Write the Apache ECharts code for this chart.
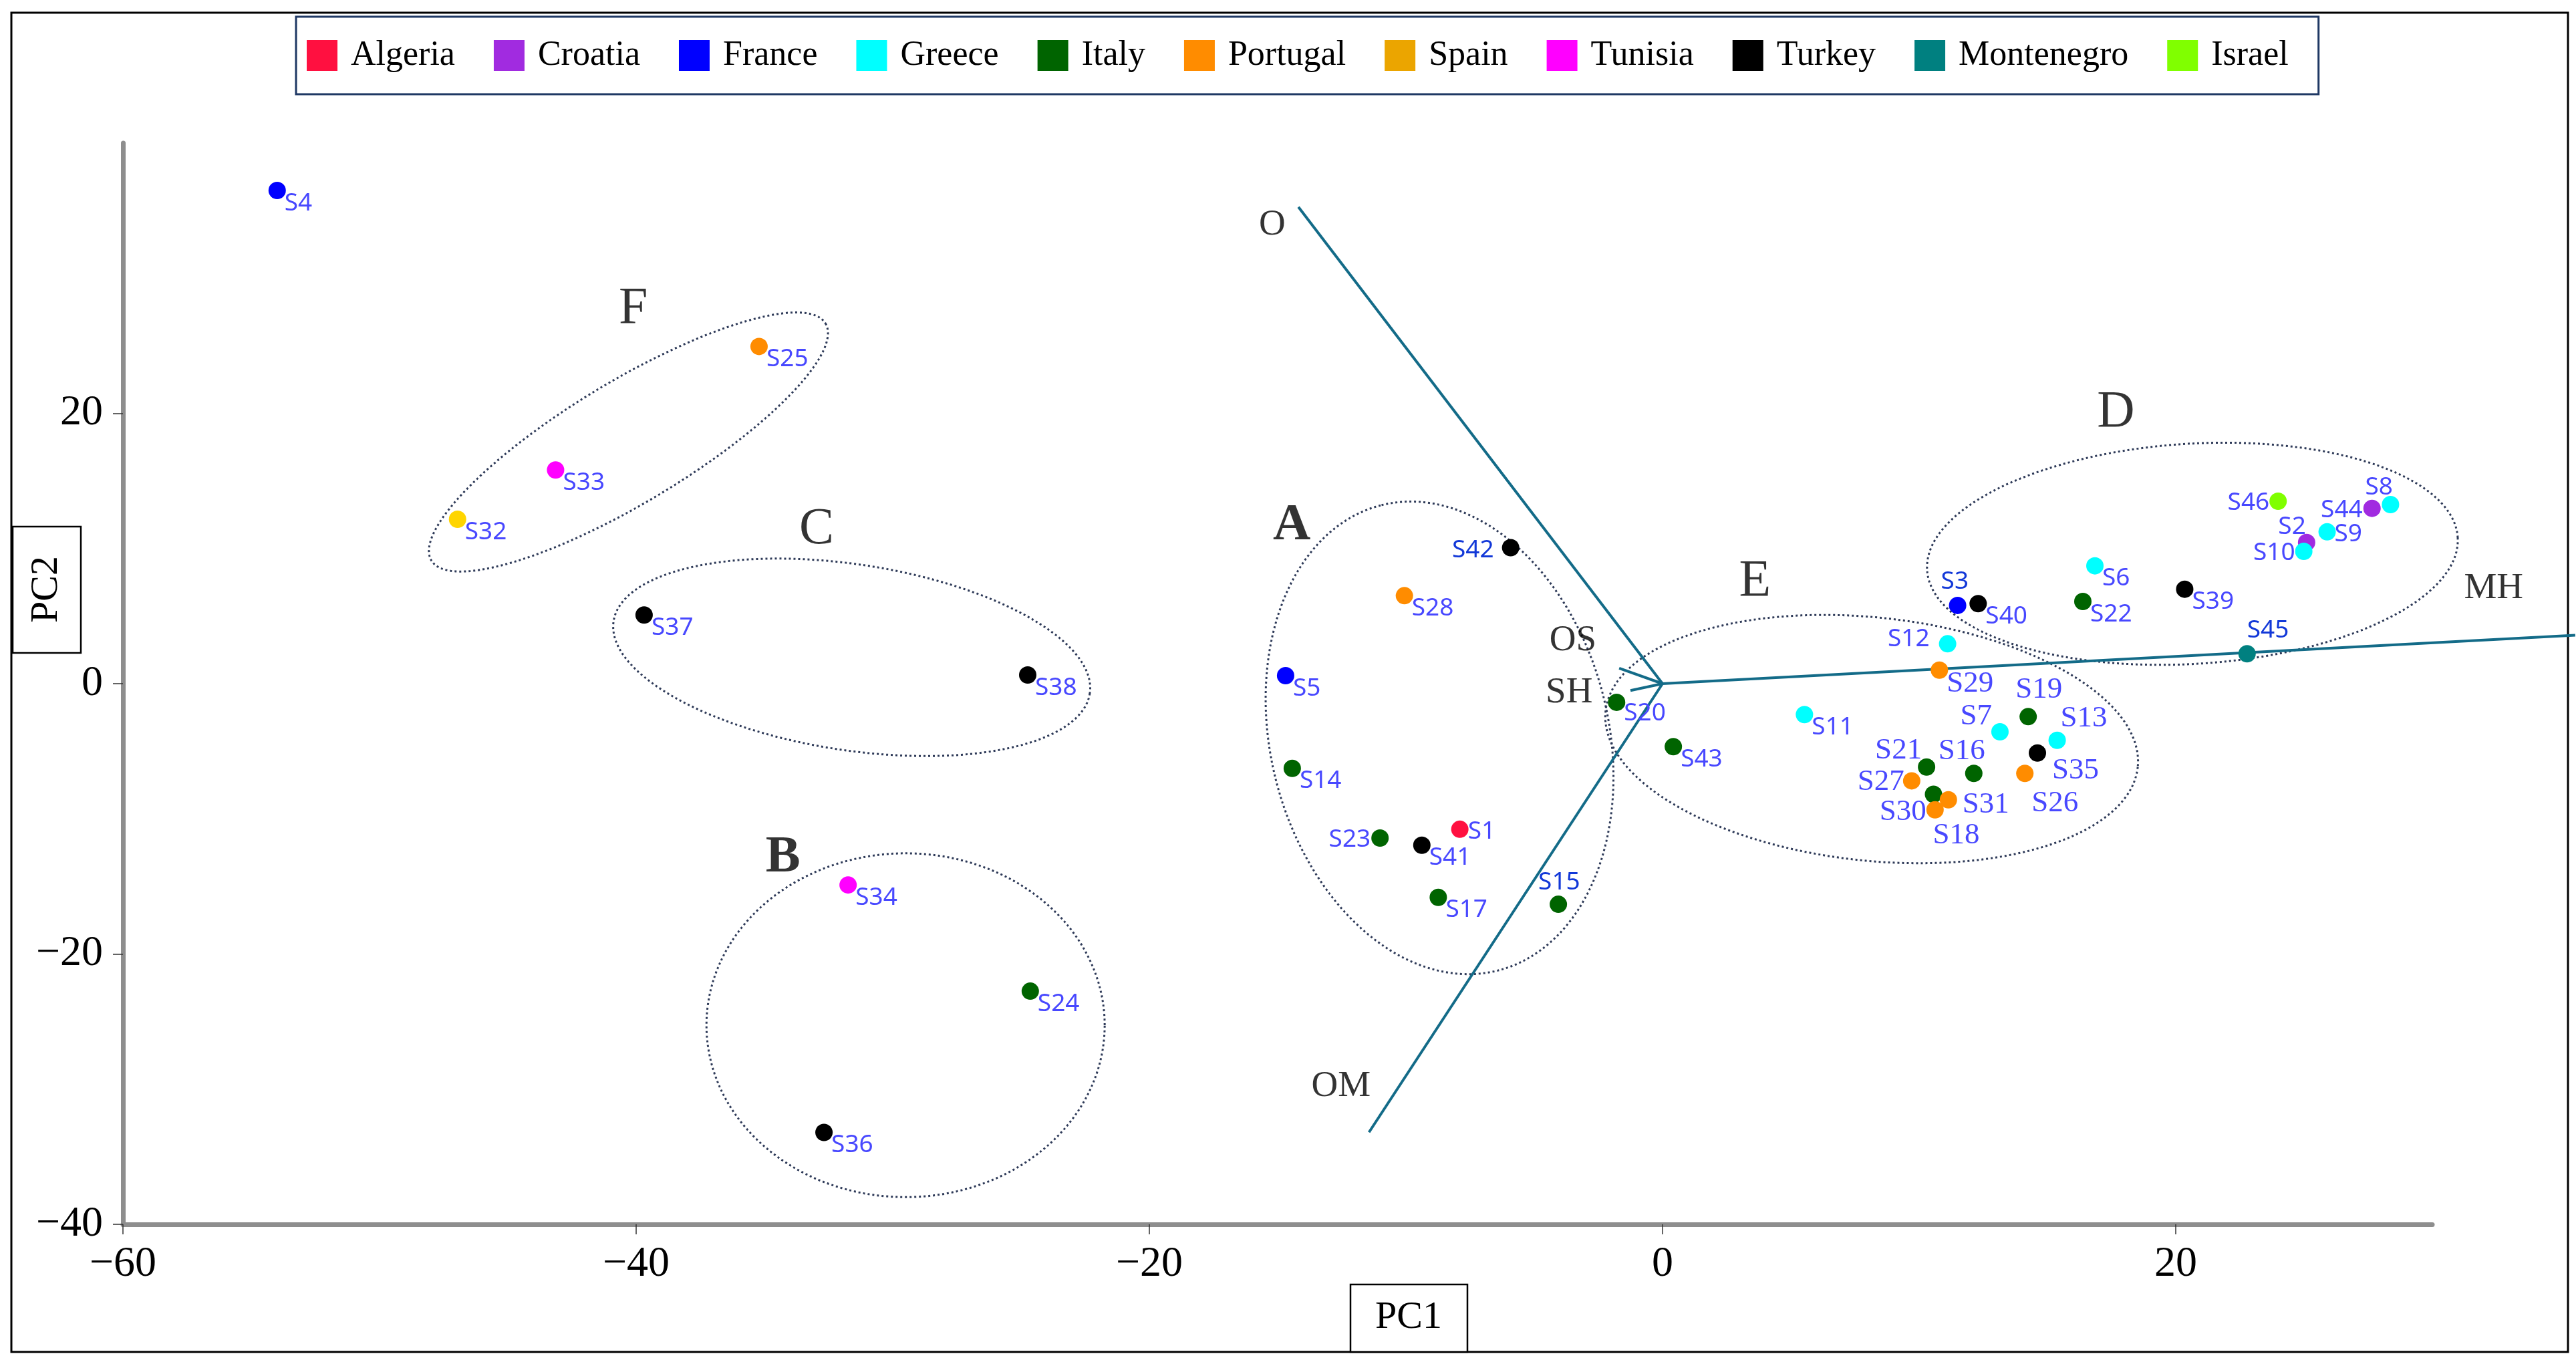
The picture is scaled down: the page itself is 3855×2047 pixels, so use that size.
<!DOCTYPE html>
<html>
<head>
<meta charset="utf-8">
<script src="https://cdn.jsdelivr.net/npm/echarts@6/dist/echarts.min.js"></script>
<style>
html,body{margin:0;padding:0;background:#fff;}
#chart{width:3855px;height:2047px;}
</style>
</head>
<body>
<div id="chart"></div>
<script>
// ---------------- DATA ----------------
const countries = ['Algeria','Croatia','France','Greece','Italy','Portugal','Spain','Tunisia','Turkey','Montenegro','Israel'];
const sampleNames = ['S1','S2','S3','S4','S5','S6','S7','S8','S9','S10','S11','S12','S13','S14','S15','S16','S17','S18','S19','S20','S21','S22','S23','S24','S25','S26','S27','S28','S29','S30','S31','S32','S33','S34','S35','S36','S37','S38','S39','S40','S41','S42','S43','S44','S45','S46'];
const pc1 = [-7.90,25.10,11.50,-53.99,-14.69,16.85,13.15,28.37,25.90,24.99,5.53,11.11,15.38,-14.43,-4.06,12.13,-8.74,10.56,14.25,-1.79,10.29,16.38,-11.01,-24.64,-35.21,14.12,9.71,-10.06,10.79,10.62,11.14,-46.96,-43.14,-31.74,14.61,-32.68,-39.69,-24.74,20.35,12.30,-9.38,-5.92,0.42,27.65,22.78,23.99];
const pc2 = [-10.77,10.45,5.79,36.49,0.59,8.72,-3.56,13.25,11.23,9.79,-2.29,2.95,-4.19,-6.27,-16.32,-6.64,-15.81,-8.18,-2.44,-1.38,-6.17,6.08,-11.42,-22.75,24.95,-6.64,-7.19,6.51,1.00,-9.33,-8.59,12.16,15.81,-14.89,-5.13,-33.20,5.08,0.64,6.99,5.92,-11.95,10.06,-4.66,12.97,2.21,13.50];
const sampleCountry = ['Algeria','Croatia','France','France','France','Greece','Greece','Greece','Greece','Greece','Greece','Greece','Greece','Italy','Italy','Italy','Italy','Italy','Italy','Italy','Italy','Italy','Italy','Italy','Portugal','Portugal','Portugal','Portugal','Portugal','Portugal','Portugal','Spain','Tunisia','Tunisia','Turkey','Turkey','Turkey','Turkey','Turkey','Turkey','Turkey','Turkey','Italy','Croatia','Montenegro','Israel'];

// loading vectors (tip -> origin)
const vectorNames = ['O','OM','MH','OS','SH'];
const vectorX = [-14.19,-11.44,35.57,-1.69,-1.25];
const vectorY = [35.27,-33.19,3.59,1.14,-0.51];
const vectorLabelX = [-15.21,-12.53,32.39,-3.49,-3.64];
const vectorLabelY = [33.93,-29.79,7.06,3.17,-0.68];

// cluster ellipses: centre, end of first semi-axis, end of second semi-axis
const clusterNames = ['A','B','C','D','E','F'];
const ellipseCX = [-8.69,-29.50,-31.60,20.65,8.15,-40.30];
const ellipseCY = [-4.01,-25.27,1.95,9.61,-4.10,17.88];
const ellipseAX = [-10.95,-21.74,-22.32,30.99,18.52,-32.62];
const ellipseAY = [13.21,-25.27,-0.72,10.81,-6.17,26.65];
const ellipseBX = [-2.30,-29.50,-32.14,20.91,7.66,-39.08];
const ellipseBY = [-0.98,-12.55,-4.85,1.48,-13.05,14.02];
const clusterLabelX = [-14.45,-34.28,-32.97,17.67,3.60,-40.11];
const clusterLabelY = [11.68,-12.89,11.40,20.07,7.54,27.73];

const xTicks = [-60,-40,-20,0,20];
const yTicks = [-40,-20,0,20];

// ---------------- STYLE ----------------
const countryColors = {Algeria:'#FF1040',Croatia:'#A12BE0',France:'#0000FF',Greece:'#00FFFF',Italy:'#006400',Portugal:'#FF8C00',Spain:'#FFD500',Tunisia:'#FF00FF',Turkey:'#000000',Montenegro:'#008080',Israel:'#80FF00'};
const legendColors = Object.assign({}, countryColors, {Spain:'#EBA500'});
const SERIF = 'Liberation Serif';
const SANS = 'Noto Sans';
const LBL = '#4848FF', LBL_DARK = '#1238D8';
const SYM = 26;

// label placement: [dx, dy, align, serif?, dark?]
const labelLayout = {
  S42:[-25,4,'right',0,1], S23:[-14,2,'right'], S1:[12,4,'left'], S15:[-30,-33,'left',0,1],
  S21:[-7,-25,'right',1], S27:[-11,2,'right',1], S30:[-13,3,'right',1], S31:[21,7,'left',1],
  S18:[-1,62,'left',1], S16:[-53,-33,'left',1], S26:[10,45,'left',1], S35:[22,26,'left',1],
  S13:[5,-33,'left',1], S7:[-12,-23,'right',1], S19:[-19,-40,'left',1], S29:[11,20,'left',1],
  S3:[-25,-35,'left',0,1], S45:[0,-35,'left',0,1], S12:[-27,-7,'right'],
  S46:[-13,2,'right'], S8:[-38,-26,'left'], S44:[-14,3,'right'], S9:[11,4,'left'],
  S2:[-1,-23,'right'], S10:[-13,2,'right'], S20:[11,17,'left']
};
const defaultLayout = [11,19,'left',0,0];

function pointLabel(name){
  const l = labelLayout[name] || defaultLayout;
  return {
    show:true, formatter:name,
    position:[SYM/2 + l[0], SYM/2 + l[1]],
    align:l[2], verticalAlign:'middle',
    fontFamily: l[3] ? SERIF : SANS,
    fontSize: l[3] ? 45 : 37,
    color: l[4] ? LBL_DARK : LBL
  };
}

const countrySeries = countries.map(c => ({
  name:c, type:'scatter', symbol:'circle', symbolSize:SYM, z:5, clip:false,
  itemStyle:{color:countryColors[c], opacity:1},
  data: sampleNames.map((n,i)=>({n,i})).filter(o=>sampleCountry[o.i]===c)
        .map(o=>({name:o.n, value:[pc1[o.i], pc2[o.i]], label:pointLabel(o.n)}))
}));

const vectorSeries = {
  type:'lines', coordinateSystem:'cartesian2d', polyline:false, clip:false, z:3, silent:true,
  symbol:['none','none'],
  lineStyle:{color:'#136B88', width:4, opacity:1, curveness:0},
  data: vectorNames.map((n,i)=>({coords:[[vectorX[i],vectorY[i]],[0,0]]}))
};

const vectorLabelSeries = {
  type:'scatter', symbolSize:0, clip:false, z:6, silent:true,
  data: vectorNames.map((n,i)=>({name:n, value:[vectorLabelX[i], vectorLabelY[i]]})),
  label:{show:true, position:'inside', formatter:p=>p.name, fontFamily:SERIF, fontSize:55, color:'#000'}
};

const clusterLabelSeries = {
  type:'scatter', symbolSize:0, clip:false, z:6, silent:true,
  data: clusterNames.map((n,i)=>({name:n, value:[clusterLabelX[i], clusterLabelY[i]],
        label:{fontWeight:(n==='A'||n==='B')?'bold':'normal'}})),
  label:{show:true, position:'inside', formatter:p=>p.name, fontFamily:SERIF, fontSize:78, color:'#000'}
};

const ellipseSeries = {
  type:'custom', z:2, silent:true, clip:false,
  data: clusterNames.map((n,i)=>[ellipseCX[i],ellipseCY[i],ellipseAX[i],ellipseAY[i],ellipseBX[i],ellipseBY[i]]),
  encode:{x:0, y:1},
  renderItem:function(params, api){
    const c = api.coord([api.value(0), api.value(1)]);
    const a = api.coord([api.value(2), api.value(3)]);
    const b = api.coord([api.value(4), api.value(5)]);
    const ux = a[0]-c[0], uy = a[1]-c[1], vx = b[0]-c[0], vy = b[1]-c[1];
    const pts = [];
    const N = 240;
    for (let k=0;k<=N;k++){
      const t = 2*Math.PI*k/N;
      pts.push([c[0]+ux*Math.cos(t)+vx*Math.sin(t), c[1]+uy*Math.cos(t)+vy*Math.sin(t)]);
    }
    return {type:'polyline', shape:{points:pts}, style:{fill:null, stroke:'#2E3A58', lineWidth:3, lineDash:[3,4]}};
  }
};

const minusFmt = v => String(v).replace('-', '\u2212');
const legendText = {fontFamily:SERIF, fontSize:52, color:'#000', padding:[0,0,0,15]};

const option = {
  animation:false,
  backgroundColor:'#ffffff',
  textStyle:{fontFamily:SERIF},
  grid:{left:184, right:215, top:214, bottom:215, containLabel:false},
  legend:{
    show:true, left:443, top:25, orient:'horizontal',
    itemWidth:46, itemHeight:46, itemGap:58, icon:'rect',
    padding:[32,45,32,16],
    borderColor:'#1F3864', borderWidth:3, backgroundColor:'#fff',
    textStyle:legendText,
    data: countries.map(c=>({name:c, itemStyle:{color:legendColors[c]}, textStyle:legendText})),
    selectedMode:false
  },
  xAxis:{
    type:'value', min:-60, max:30, interval:20,
    axisLine:{show:true, onZero:false, lineStyle:{color:'#8E8E8E', width:7}},
    axisTick:{show:true, length:15, customValues:xTicks, lineStyle:{color:'#333', width:1.5}},
    axisLabel:{show:true, margin:28, customValues:xTicks, formatter:minusFmt, fontFamily:SERIF, fontSize:64, color:'#000'},
    splitLine:{show:false}
  },
  yAxis:{
    type:'value', min:-40, max:40, interval:20,
    axisLine:{show:true, onZero:false, lineStyle:{color:'#8E8E8E', width:7}},
    axisTick:{show:true, length:15, customValues:yTicks, lineStyle:{color:'#333', width:1.5}},
    axisLabel:{show:true, margin:30, customValues:yTicks, formatter:minusFmt, fontFamily:SERIF, fontSize:64, color:'#000'},
    splitLine:{show:false}
  },
  graphic:[
    {type:'rect', shape:{x:17, y:19, width:3826, height:2004}, style:{fill:null, stroke:'#000', lineWidth:3}, silent:true, z:-1},
    {type:'rect', shape:{x:2021, y:1922, width:175, height:101}, style:{fill:'#fff', stroke:'#000', lineWidth:2.5}, silent:true},
    {type:'text', x:2108, y:1972, style:{text:'PC1', fontFamily:SERIF, fontSize:58, fill:'#000', align:'center', verticalAlign:'middle'}, silent:true},
    {type:'rect', shape:{x:19, y:788, width:102, height:189}, style:{fill:'#fff', stroke:'#000', lineWidth:2.5}, silent:true},
    {type:'text', x:70, y:882, rotation:Math.PI/2, style:{text:'PC2', fontFamily:SERIF, fontSize:58, fill:'#000', align:'center', verticalAlign:'middle'}, silent:true}
  ],
  series:[ellipseSeries, vectorSeries].concat(countrySeries, [vectorLabelSeries, clusterLabelSeries])
};

const chart = echarts.init(document.getElementById('chart'), null, {renderer:'canvas', width:3855, height:2047});
chart.setOption(option);
</script>
</body>
</html>
